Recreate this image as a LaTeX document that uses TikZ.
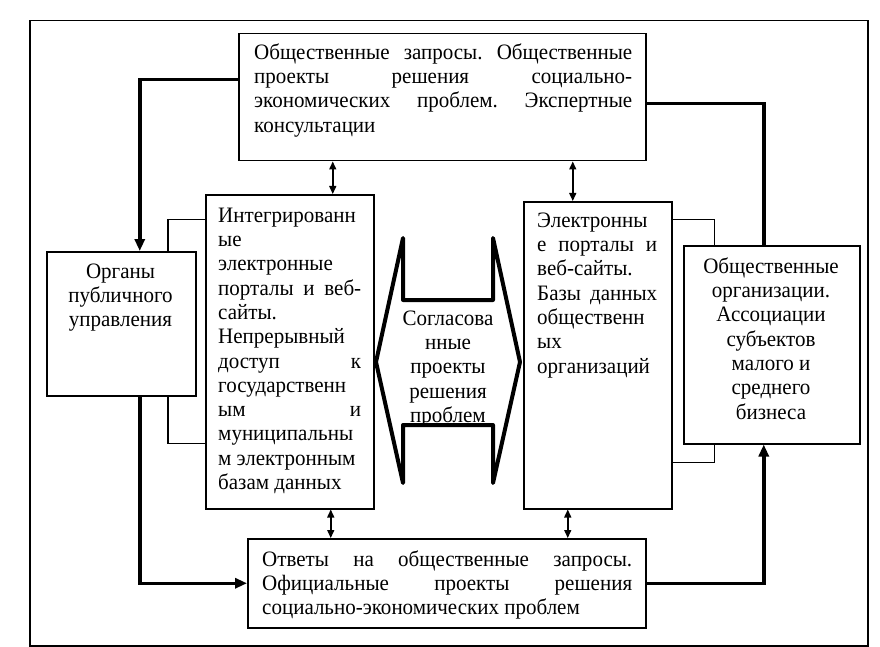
\documentclass[tikz,border=0pt]{standalone}
\usepackage{fontspec}
\setmainfont{Liberation Serif}[FakeStretch=0.955]
\usetikzlibrary{arrows.meta}
\newcommand{\jl}[2]{\makebox[#1][s]{#2}}
\frenchspacing
\begin{document}
\begin{tikzpicture}[x=1pt,y=-1pt,
  box/.style={draw, line width=1.5pt, fill=white, inner sep=0pt, anchor=north west},
  txt/.style={inner sep=0pt, font=\fontsize{22}{24.3}\selectfont, align=left, anchor=north west},
  ctxt/.style={txt, align=center, anchor=north},
  dbl/.style={line width=1.5pt, {Triangle[length=8pt,width=7pt]}-{Triangle[length=8pt,width=7pt]}},
  heavy/.style={line width=3.5pt},
  heavyarrow/.style={heavy, -{Triangle[length=12pt,width=10pt]}},
  bracket/.style={line width=1.3pt}]
\useasboundingbox (0,0) rectangle (880,647);
\fill[white] (0,0) rectangle (880,647);
\node[draw, line width=1.5pt, inner sep=0pt, anchor=north west, minimum width=838pt, minimum height=625pt] (frame) at (29,20) {};

% brackets (behind boxes)
\node[box, minimum width=168pt, minimum height=314pt, fill=none, draw=none] (intph) at (205,194) {};
\node[box, minimum width=148pt, minimum height=307pt, fill=none, draw=none] (elecph) at (523,201) {};
\draw[bracket] ([yshift=132pt]intph.west) -- ++(-37,0) |- ([yshift=-92pt]intph.west);
\draw[bracket] ([yshift=135.5pt]elecph.east) -- ++(42,0) |- ([yshift=-107.5pt]elecph.east);

% boxes
\node[box, minimum width=407pt, minimum height=127pt] (top) at (238,33) {};
\node[box, minimum width=149pt, minimum height=144pt] (left) at (46,251) {};
\node[box, minimum width=168pt, minimum height=314pt] (int) at (205,194) {};
\node[box, minimum width=148pt, minimum height=307pt] (elec) at (523,201) {};
\node[box, minimum width=176pt, minimum height=198pt] (right) at (683,245) {};
\node[box, minimum width=398pt, minimum height=89pt] (bottom) at (247,538) {};

% texts
\node[txt] (toptext) at (254,42) {\rule{0pt}{17pt}\jl{378pt}{Общественные запросы. Общественные}\\
\jl{378pt}{проекты решения социально-}\\
\jl{378pt}{экономических проблем. Экспертные}\\
консультации};
\node[ctxt] (lefttext) at (120.5,261) {\rule{0pt}{17pt}Органы\\публичного\\управления};
\node[txt] (inttext) at (218,205) {\rule{0pt}{17pt}Интегрированн\\
ые\\
электронные\\
\jl{143pt}{порталы и веб-}\\
сайты.\\
Непрерывный\\
\jl{143pt}{доступ к}\\
государственн\\
\jl{143pt}{ым и}\\
муниципальны\\
м электронным\\
базам данных};
\node[txt] (electext) at (537,210) {\rule{0pt}{17pt}Электронны\\
\jl{120pt}{е порталы и}\\
веб-сайты.\\
\jl{120pt}{Базы данных}\\
общественн\\
ых\\
организаций};
\node[ctxt] (righttext) at (771,256) {\rule{0pt}{17pt}Общественные\\организации.\\Ассоциации\\субъектов\\малого и\\среднего\\бизнеса};
\node[txt] (bottomtext) at (262,549) {\rule{0pt}{17pt}\jl{370pt}{Ответы на общественные запросы.}\\
\jl{370pt}{Официальные проекты решения}\\
социально-экономических проблем};

% central shape
\draw[line width=4pt, line join=round] (376,362) -- (403,238) -- (403,300) -- (493,300) -- (493,238) -- (520,362) -- (493,483) -- (493,425) -- (403,425) -- (403,483) -- cycle;
\node[ctxt] (midtext) at (448,308) {\rule{0pt}{17pt}Согласова\\нные\\проекты\\решения\\проблем};

% double arrows
\draw[dbl] ([xshift=43pt]int.north) -- ([xshift=43pt]int.north |- top.south);
\draw[dbl] ([xshift=-25pt]elec.north) -- ([xshift=-25pt]elec.north |- top.south);
\draw[dbl] ([xshift=41pt]int.south) -- ([xshift=41pt]int.south |- bottom.north);
\draw[dbl] ([xshift=-30pt]elec.south) -- ([xshift=-30pt]elec.south |- bottom.north);

% heavy connectors
\draw[heavyarrow] ([yshift=17.5pt]top.west) -| ([xshift=18.5pt]left.north);
\draw[heavyarrow] ([xshift=18.5pt]left.south) |- (bottom.west);
\draw[heavyarrow] (bottom.east) -| ([xshift=-8pt]right.south);
\draw[heavy] ([yshift=-6.5pt]top.east) -| ([xshift=-8pt]right.north);
\end{tikzpicture}
\end{document}
